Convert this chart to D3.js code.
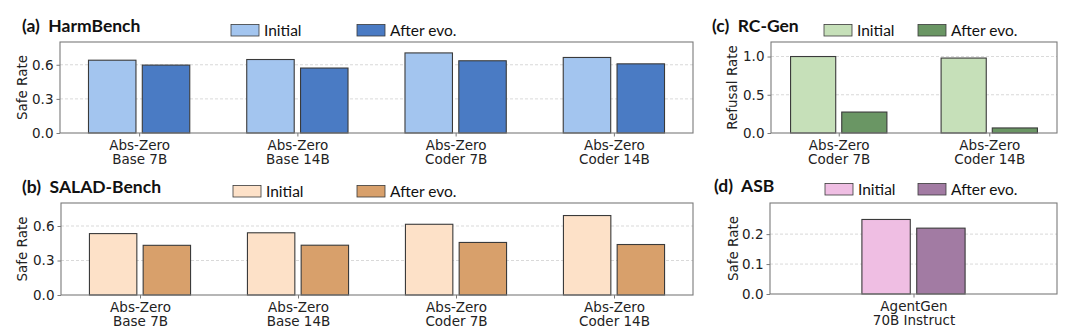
<!DOCTYPE html>
<html>
<head>
<meta charset="utf-8">
<script src="https://cdn.jsdelivr.net/npm/d3@7"></script>
<style>
  html, body { margin: 0; padding: 0; background: #ffffff; }
  svg { display: block; }
  .title { font-family: Lato, "Open Sans", sans-serif; font-weight: 700; font-size: 17.5px; fill: #111; white-space: pre; }
  .legtext { font-family: Lato, "Open Sans", sans-serif; font-size: 15.5px; fill: #111; }
  .tick text { font-family: "DejaVu Sans", sans-serif; font-size: 13.5px; fill: #222; }
  .ylabel { font-family: "DejaVu Sans", sans-serif; font-size: 13.5px; fill: #222; }
</style>
</head>
<body>
<svg id="chart" width="1080" height="333"></svg>
<script>
// ---------- data ----------
const harmCategories = ["Abs-Zero\nBase 7B", "Abs-Zero\nBase 14B", "Abs-Zero\nCoder 7B", "Abs-Zero\nCoder 14B"];
const harmInitial = [0.640, 0.646, 0.704, 0.664];
const harmAfter   = [0.597, 0.571, 0.635, 0.608];

const saladCategories = ["Abs-Zero\nBase 7B", "Abs-Zero\nBase 14B", "Abs-Zero\nCoder 7B", "Abs-Zero\nCoder 14B"];
const saladInitial = [0.534, 0.541, 0.615, 0.691];
const saladAfter   = [0.432, 0.433, 0.457, 0.439];

const rcCategories = ["Abs-Zero\nCoder 7B", "Abs-Zero\nCoder 14B"];
const rcInitial = [1.000, 0.980];
const rcAfter   = [0.274, 0.066];

const asbCategories = ["AgentGen\n70B Instruct"];
const asbInitial = [0.249];
const asbAfter   = [0.220];

const safeTicks = [0.0, 0.3, 0.6];
const refusalTicks = [0.0, 0.5, 1.0];
const asbTicks = [0.0, 0.1, 0.2];

const seriesNames = ["Initial", "After evo."];

// ---------- drawing ----------
const svg = d3.select("#chart");

function drawPanel(p) {
  const g = svg.append("g");
  const n = p.categories.length;
  const x = d3.scaleLinear().domain([-p.pad, n - 1 + p.pad]).range([p.left, p.right]);
  const y = d3.scaleLinear().domain([0, p.ymax]).range([p.bottom, p.top]);
  const barW = x(0.30) - x(0);
  const offset = 0.17;

  // gridlines
  g.selectAll("line.grid").data(p.ticks.filter(t => t > 0)).join("line")
    .attr("x1", p.left).attr("x2", p.right)
    .attr("y1", d => y(d)).attr("y2", d => y(d))
    .attr("stroke", "#cfcfcf").attr("stroke-width", 0.8)
    .attr("stroke-dasharray", "3,2");

  // bars
  const series = [p.initial, p.after];
  series.forEach((vals, si) => {
    g.selectAll("rect.s" + si).data(vals).join("rect")
      .attr("x", (d, i) => x(i + (si === 0 ? -offset : offset)) - barW / 2)
      .attr("y", d => y(d))
      .attr("width", barW)
      .attr("height", d => y(0) - y(d))
      .attr("fill", p.colors[si])
      .attr("stroke", "#3a3a3a").attr("stroke-width", 1.1);
  });

  // frame
  g.append("rect")
    .attr("x", p.left).attr("y", p.top)
    .attr("width", p.right - p.left).attr("height", p.bottom - p.top)
    .attr("fill", "none").attr("stroke", "#7a7a7a").attr("stroke-width", 1.1);

  // y axis
  const yAxis = d3.axisLeft(y).tickValues(p.ticks).tickFormat(d3.format(".1f")).tickSize(3.5).tickPadding(3);
  const ya = g.append("g").attr("transform", `translate(${p.left},0)`).call(yAxis);
  ya.select(".domain").remove();
  ya.selectAll(".tick line").attr("stroke", "#7a7a7a");

  // x axis
  const xAxis = d3.axisBottom(x).tickValues(d3.range(n)).tickFormat("").tickSize(3.5);
  const xa = g.append("g").attr("transform", `translate(0,${p.bottom})`).call(xAxis);
  xa.select(".domain").remove();
  xa.selectAll(".tick line").attr("stroke", "#7a7a7a");
  xa.selectAll(".tick").each(function(d) {
    const lines = p.categories[d].split("\n");
    const t = d3.select(this).append("text")
      .attr("text-anchor", "middle").attr("y", 16.5);
    lines.forEach((ln, li) => {
      t.append("tspan").attr("x", 0).attr("dy", li === 0 ? 0 : 14.5).text(ln);
    });
  });

  // y label
  g.append("text").attr("class", "ylabel")
    .attr("transform", `translate(${p.ylabelX},${(p.top + p.bottom) / 2}) rotate(-90)`)
    .attr("text-anchor", "middle").attr("dy", "0.35em")
    .text(p.ylabel);

  // title
  g.append("text").attr("class", "title")
    .attr("x", p.titleX).attr("y", p.titleY)
    .text(p.title);

  // legend
  seriesNames.forEach((name, si) => {
    const lx = p.legX[si];
    g.append("rect").attr("x", lx).attr("y", p.legY - 11.5)
      .attr("width", 28).attr("height", 11.5)
      .attr("fill", p.colors[si]).attr("stroke", "#3a3a3a").attr("stroke-width", 0.8);
    g.append("text").attr("class", "legtext")
      .attr("x", lx + 33).attr("y", p.legY).text(name);
  });
}

drawPanel({
  categories: harmCategories, initial: harmInitial, after: harmAfter,
  ticks: safeTicks, ymax: 0.8, pad: 0.5,
  left: 60, right: 693, top: 42, bottom: 133,
  colors: ["#a3c5ef", "#4a7bc4"],
  ylabel: "Safe Rate", ylabelX: 22,
  title: "(a)  HarmBench", titleX: 22, titleY: 32,
  legX: [231, 357], legY: 36
});

drawPanel({
  categories: saladCategories, initial: saladInitial, after: saladAfter,
  ticks: safeTicks, ymax: 0.8, pad: 0.5,
  left: 61, right: 693, top: 203, bottom: 295,
  colors: ["#fde1c8", "#d8a06b"],
  ylabel: "Safe Rate", ylabelX: 22,
  title: "(b)  SALAD-Bench", titleX: 22, titleY: 193,
  legX: [233, 357], legY: 197
});

drawPanel({
  categories: rcCategories, initial: rcInitial, after: rcAfter,
  ticks: refusalTicks, ymax: 1.19, pad: 0.45,
  left: 771, right: 1057, top: 42, bottom: 133,
  colors: ["#c6e0b9", "#6a9664"],
  ylabel: "Refusal Rate", ylabelX: 732,
  title: "(c)  RC-Gen", titleX: 712, titleY: 32,
  legX: [824, 918], legY: 36
});

drawPanel({
  categories: asbCategories, initial: asbInitial, after: asbAfter,
  ticks: asbTicks, ymax: 0.304, pad: 0.89,
  left: 770, right: 1057, top: 203, bottom: 294,
  colors: ["#efbee3", "#a27ba3"],
  ylabel: "Safe Rate", ylabelX: 733,
  title: "(d)  ASB", titleX: 714, titleY: 192,
  legX: [825, 918], legY: 195
});
</script>
</body>
</html>
